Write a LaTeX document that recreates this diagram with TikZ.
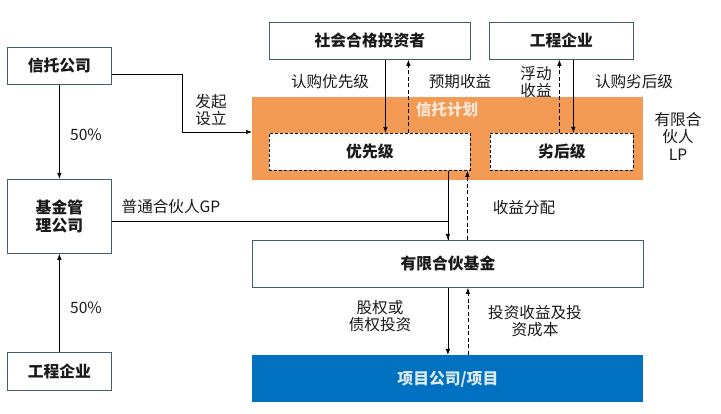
\documentclass[tikz,border=0pt]{standalone}
\usepackage{fontspec}
\setmainfont{Noto Sans CJK SC}
\usetikzlibrary{arrows.meta,calc}
\definecolor{edge}{HTML}{3F5F6A}
\definecolor{orng}{HTML}{F39A55}
\definecolor{cream}{HTML}{FDE9D9}
\definecolor{blu}{HTML}{0070C0}
\definecolor{lblu}{HTML}{DDEBF7}
\definecolor{txt}{HTML}{1A1A1A}
\tikzset{
  box/.style={draw=edge, line width=0.8pt, fill=white, anchor=north west, inner sep=0pt,
    align=center, font=\fontsize{15.8}{18}\selectfont\bfseries, text=txt},
  dbox/.style={box, draw=black, dashed, dash pattern=on 3pt off 2pt},
  lbl/.style={font=\fontsize{15.6}{17.5}\selectfont, align=center, text=txt, inner sep=0pt},
  arr/.style={draw=black, line width=0.8pt, -{Latex[length=6pt,width=4.5pt]}},
  darr/.style={arr, dash pattern=on 4pt off 2.5pt},
  ln/.style={draw=black, line width=0.8pt}
}
\begin{document}
\begin{tikzpicture}[x=1pt,y=-1pt]
\useasboundingbox[fill=white] (0,0) rectangle (721,414);
% boxes
\node[box, minimum width=104pt, minimum height=37pt] (xt) at (7,47) {信托公司};
\node[box, minimum width=104pt, minimum height=74pt] (jj) at (7,179) {基金管\\理公司};
\node[box, minimum width=104pt, minimum height=38pt] (gc1) at (7,352) {工程企业};
\node[box, minimum width=201pt, minimum height=37pt] (sh) at (269,22) {社会合格投资者};
\node[box, minimum width=144pt, minimum height=37pt] (gc2) at (489,22) {工程企业};
\node[anchor=north west, fill=orng, minimum width=391pt, minimum height=83pt, inner sep=0pt] (plan) at (252,97) {};
\node[lbl, font=\fontsize{15.6}{17.5}\selectfont\bfseries, text=cream] (plant) at (447,110) {信托计划};
\node[dbox, minimum width=201pt, minimum height=37pt] (yx) at (269,133) {优先级};
\node[dbox, minimum width=143pt, minimum height=37pt] (lh) at (490,133) {劣后级};
\node[box, minimum width=391pt, minimum height=47pt] (fund) at (252,240) {有限合伙基金};
\node[box, draw=none, fill=blu, text=lblu, minimum width=391pt, minimum height=47pt] (proj) at (252,355) {项目公司/项目};
% left column
\draw[arr] (xt.south) -- (jj.north);
\draw[arr] (gc1.north) -- (jj.south);
\coordinate (bend) at (182,132);
\draw[arr] ([yshift=-8.5pt]xt.east) -| (bend) -- (bend -| plan.west);
% GP line
\draw[ln] ([yshift=-5pt]jj.east) -| (fund.north);
\draw[arr] (yx.south -| fund.north) -- (fund.north);
\draw[darr] ($(fund.north)+(19.5,0)$) -- ($(fund.north |- yx.south)+(19.5,0)$);
% fund to project
\draw[arr] (fund.south) -- (proj.north);
\draw[darr] ($(proj.north)+(20,0)$) -- ($(fund.south)+(20,0)$);
% investors
\draw[arr] ($(sh.south)+(15.5,0)$) -- ($(sh.south |- yx.north)+(15.5,0)$);
\draw[darr] ($(sh.south |- yx.north)+(38.5,0)$) -- ($(sh.south)+(38.5,0)$);
\draw[arr] ($(gc2.south)+(12,0)$) -- ($(gc2.south |- lh.north)+(12,0)$);
\draw[darr] ($(gc2.south |- lh.north)+(-2,0)$) -- ($(gc2.south)+(-2,0)$);
% labels
\node[lbl] (l1) at (211,110) {发起\\设立};
\node[lbl] (l2) at (86,135) {50\%};
\node[lbl] (l3) at (86,308) {50\%};
\node[lbl] (l4) at (171,207) {普通合伙人GP};
\node[lbl] (l5) at (330,82) {认购优先级};
\node[lbl] (l6) at (460,82) {预期收益};
\node[lbl] (l7) at (536,82) {浮动\\收益};
\node[lbl] (l8) at (634,82) {认购劣后级};
\node[lbl] (l9) at (678,136) {有限合\\伙人\\LP};
\node[lbl] (l10) at (524,208) {收益分配};
\node[lbl] (l11) at (380,316) {股权或\\债权投资};
\node[lbl] (l12) at (535,321) {投资收益及投\\资成本};
\end{tikzpicture}
\end{document}
